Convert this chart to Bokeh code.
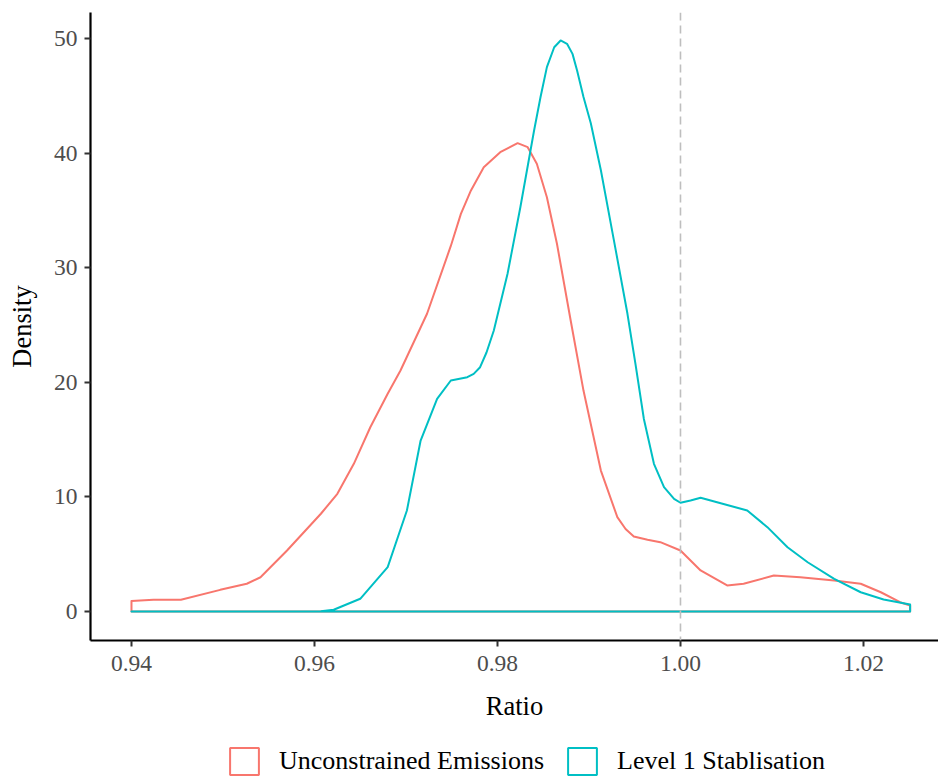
from bokeh.plotting import figure
from bokeh.layouts import column
from bokeh.models import Span, Legend, LegendItem, Range1d, FixedTicker, NumeralTickFormatter
from bokeh.embed import file_html
from bokeh.resources import INLINE

# ---- data ----
series_names = ["Unconstrained Emissions", "Level 1 Stablisation"]
series_colors = ["#F8766D", "#00BFC4"]

ratio_unconstrained = [0.9400, 0.9424, 0.9454, 0.9497, 0.9526, 0.9541, 0.9570, 0.9607,
                       0.9625, 0.9643, 0.9661, 0.9680, 0.9694, 0.9723, 0.9749, 0.9760,
                       0.9771, 0.9785, 0.9803, 0.9822, 0.9833, 0.9843, 0.9854, 0.9865,
                       0.9880, 0.9894, 0.9913, 0.9931, 0.9940, 0.9949, 0.9964, 0.9978,
                       1.0000, 1.0022, 1.0051, 1.0069, 1.0102, 1.0131, 1.0168, 1.0197,
                       1.0219, 1.0240, 1.0251]
density_unconstrained = [0.92, 1.02, 1.02, 1.89, 2.42, 2.99, 5.32, 8.53,
                         10.27, 12.89, 16.08, 19.0, 21.03, 25.98, 31.9, 34.7,
                         36.74, 38.77, 40.08, 40.87, 40.52, 39.07, 36.15, 32.09,
                         25.39, 19.28, 12.30, 8.23, 7.2, 6.55, 6.26, 6.05,
                         5.32, 3.58, 2.27, 2.42, 3.14, 2.99, 2.71, 2.42,
                         1.68, 0.81, 0.52]

ratio_level1 = [0.9400, 0.9500, 0.9585, 0.9607, 0.9621, 0.9650, 0.9680, 0.9701,
                0.9716, 0.9734, 0.9749, 0.9767, 0.9774, 0.9781, 0.9788, 0.9796,
                0.9811, 0.9825, 0.9840, 0.9847, 0.9854, 0.9862, 0.9869, 0.9876,
                0.9882, 0.9887, 0.9894, 0.9902, 0.9913, 0.9927, 0.9942, 0.9951,
                0.9960, 0.9971, 0.9982, 0.9993, 1.0000, 1.0011, 1.0022, 1.0040,
                1.0073, 1.0095, 1.0117, 1.0139, 1.0168, 1.0197, 1.0222, 1.0251]
density_level1 = [0.0, 0.0, 0.0, 0.02, 0.15, 1.11, 3.87, 8.81,
                  14.92, 18.56, 20.16, 20.45, 20.74, 21.32, 22.6, 24.52,
                  29.47, 35.28, 41.97, 44.88, 47.5, 49.24, 49.83, 49.54,
                  48.66, 47.21, 44.9, 42.6, 38.5, 32.5, 26.0, 21.5,
                  16.8, 12.89, 10.85, 9.83, 9.49, 9.69, 9.92, 9.54,
                  8.81, 7.36, 5.61, 4.30, 2.85, 1.68, 1.05, 0.61]

x_ticks = [0.94, 0.96, 0.98, 1.00, 1.02]
y_ticks = [0, 10, 20, 30, 40, 50]
reference_ratio = 1.0

FONT = "Liberation Serif"

series = [(ratio_unconstrained, density_unconstrained, series_colors[0]),
          (ratio_level1, density_level1, series_colors[1])]


def closed(xs, ys):
    # density outline closed along the baseline, as ggplot's geom_density draws it
    return [xs[0]] + list(xs) + [xs[-1]], [0.0] + list(ys) + [0.0]


p = figure(width=938, height=740, output_backend="svg", toolbar_location=None,
           x_range=Range1d(0.93552, 1.0282), y_range=Range1d(-2.53, 52.27),
           min_border_left=90, min_border_right=0, min_border_top=12, min_border_bottom=100,
           x_axis_label="Ratio", y_axis_label="Density")
p.outline_line_color = None
p.xgrid.visible = False
p.ygrid.visible = False
p.background_fill_color = "white"
p.border_fill_color = "white"

for xs, ys, col in series:
    px, py = closed(xs, ys)
    p.patch(px, py, fill_alpha=0, line_color=col, line_width=2, line_join="round")

p.add_layout(Span(location=reference_ratio, dimension="height", line_color="#BEBEBE",
                  line_width=1.6, line_dash="8 5"))

for ax in (p.xaxis[0], p.yaxis[0]):
    ax.axis_line_color = "black"
    ax.axis_line_width = 2.2
    ax.major_tick_line_color = "#333333"
    ax.major_tick_line_width = 2
    ax.major_tick_out = 6
    ax.major_tick_in = 0
    ax.minor_tick_line_color = None
    ax.major_label_text_font = FONT
    ax.major_label_text_font_size = "23.5px"
    ax.major_label_text_color = "#4D4D4D"
    ax.axis_label_text_font = FONT
    ax.axis_label_text_font_size = "26.5px"
    ax.axis_label_text_font_style = "normal"
    ax.axis_label_text_color = "black"

p.xaxis.ticker = FixedTicker(ticks=x_ticks)
p.xaxis.formatter = NumeralTickFormatter(format="0.00")
p.yaxis.ticker = FixedTicker(ticks=y_ticks)
p.xaxis.major_label_standoff = 9
p.xaxis.axis_label_standoff = 17
p.yaxis.major_label_standoff = 7
p.yaxis.axis_label_standoff = 14

# ---- legend strip below the plot (same series, kept out of this strip's view) ----
lg = figure(width=938, height=40, output_backend="svg", toolbar_location=None,
            x_axis_type=None, y_axis_type=None,
            x_range=Range1d(0.93552, 1.0282), y_range=Range1d(100, 101),
            min_border_left=0, min_border_right=0, min_border_top=0, min_border_bottom=0)
lg.outline_line_color = None
lg.xgrid.visible = False
lg.ygrid.visible = False
keys = []
for xs, ys, col in series:
    px, py = closed(xs, ys)
    keys.append(lg.patch(px, py, fill_alpha=0, line_color=col, line_width=2))
legend = Legend(items=[LegendItem(label=series_names[i], renderers=[keys[i]]) for i in range(2)],
                orientation="horizontal", location=(136, 2),
                glyph_width=36, glyph_height=34, label_standoff=17, spacing=20,
                padding=0, margin=0, border_line_alpha=0, background_fill_alpha=0,
                label_text_font=FONT, label_text_font_size="26px", label_text_color="black")
lg.add_layout(legend, "center")

layout = column(p, lg, spacing=0)
open("out.html", "w").write(file_html(layout, INLINE))
